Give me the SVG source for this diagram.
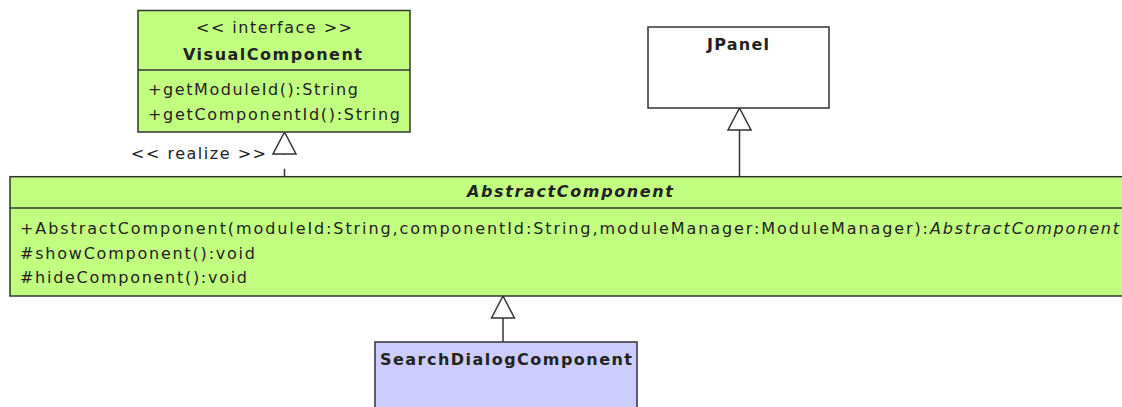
<svg xmlns="http://www.w3.org/2000/svg" width="1122" height="407" viewBox="0 0 1122 407">
  <style>
    .box { stroke: #333; stroke-width: 1.5; }
    .iface { fill: #c2ff80; }
    .cls { fill: #c2ff80; }
    .plain { fill: #ffffff; }
    .sub { fill: #ccccff; }
    .sep { stroke: #333; stroke-width: 1.5; fill: none; }
    text { font-family: "DejaVu Sans", "Liberation Sans", sans-serif; font-size: 16px; fill: #222; }
    .name { font-weight: bold; text-anchor: middle; }
    .stereo { text-anchor: middle; }
    .abs { font-style: italic; }
    .edge { stroke: #333; stroke-width: 1.5; fill: none; }
    .dashed { stroke-dasharray: 8 14; }
  </style>
  <defs>
    <marker id="gen" viewBox="-2 -2 26 27" refX="22" refY="11.5" markerWidth="26" markerHeight="27" markerUnits="userSpaceOnUse" orient="auto" overflow="visible">
      <path d="M22,11.5 L0,0 L0,23 Z" fill="#fff" stroke="#333" stroke-width="1.5"/>
    </marker>
  </defs>

  <g id="connectors">
    <path class="edge dashed" d="M284.5,176.7 L284.5,132" marker-end="url(#gen)"/>
    <path class="edge" d="M739.5,176.7 L739.5,108" marker-end="url(#gen)"/>
    <path class="edge" d="M503,342 L503,296" marker-end="url(#gen)"/>
    <text x="131" y="159" textLength="135" lengthAdjust="spacing">&lt;&lt; realize &gt;&gt;</text>
  </g>

  <g id="VisualComponent">
    <rect class="box iface" x="138" y="10.5" width="272" height="121.5"/>
    <line class="sep" x1="138" y1="70" x2="410" y2="70"/>
    <text class="stereo" x="274" y="33" textLength="156" lengthAdjust="spacing">&lt;&lt; interface &gt;&gt;</text>
    <text class="name" x="272.5" y="60" textLength="179" lengthAdjust="spacing">VisualComponent</text>
    <text x="148" y="95" textLength="210" lengthAdjust="spacing">+getModuleId():String</text>
    <text x="148" y="120" textLength="252" lengthAdjust="spacing">+getComponentId():String</text>
  </g>

  <g id="JPanel">
    <rect class="box plain" x="648" y="27" width="181" height="81"/>
    <text class="name" x="738" y="50" textLength="62" lengthAdjust="spacing">JPanel</text>
  </g>

  <g id="AbstractComponent">
    <rect class="box cls" x="10" y="176.7" width="1125" height="119.3"/>
    <line class="sep" x1="10" y1="208" x2="1135" y2="208"/>
    <text class="name abs" x="570" y="197" textLength="206" lengthAdjust="spacing">AbstractComponent</text>
    <text x="20" y="234" textLength="908" lengthAdjust="spacing">+AbstractComponent(moduleId:String,componentId:String,moduleManager:ModuleManager):</text>
    <text class="abs" x="930" y="234" textLength="189" lengthAdjust="spacing">AbstractComponent</text>
    <text x="20" y="259" textLength="235" lengthAdjust="spacing">#showComponent():void</text>
    <text x="20" y="283" textLength="227" lengthAdjust="spacing">#hideComponent():void</text>
  </g>

  <g id="SearchDialogComponent">
    <rect class="box sub" x="375" y="342" width="262" height="80"/>
    <text class="name" x="506" y="365" textLength="252" lengthAdjust="spacing">SearchDialogComponent</text>
  </g>
</svg>
